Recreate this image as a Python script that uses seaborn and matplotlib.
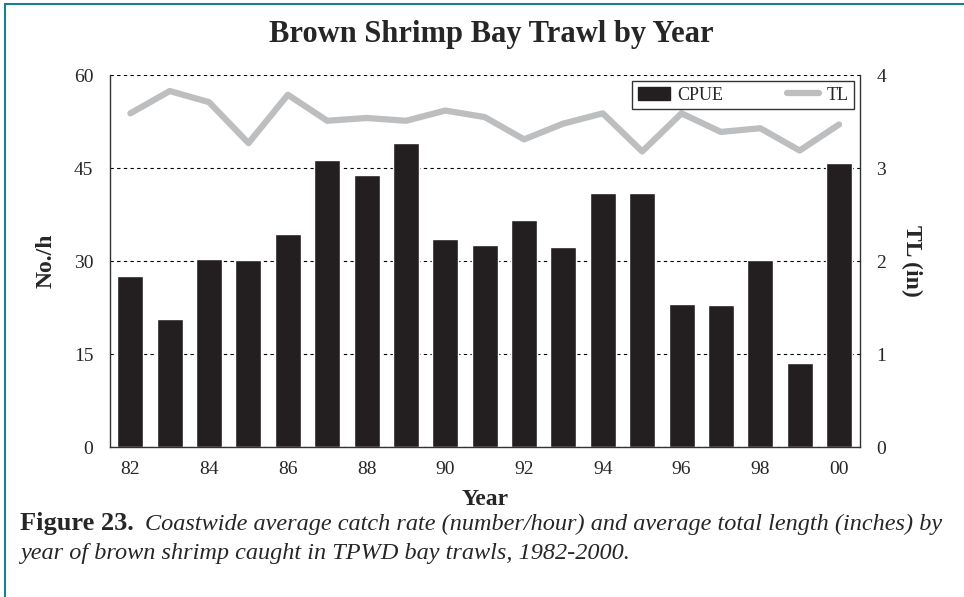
import numpy as np
import pandas as pd
import matplotlib.pyplot as plt
import matplotlib.lines as mlines
import seaborn as sns

sns.set_style("white")
plt.rcParams["font.family"] = ["Liberation Serif", "DejaVu Serif"]

# cores
PRETO = "#231f20"
CINZA = "#bcbec0"
TEAL = "#1b7f8f"

# dados
anos = [1982, 1983, 1984, 1985, 1986, 1987, 1988, 1989, 1990, 1991,
        1992, 1993, 1994, 1995, 1996, 1997, 1998, 1999, 2000]
cpue = [27.6, 20.6, 30.3, 30.2, 34.4, 46.3, 43.9, 49.0, 33.6, 32.6,
        36.6, 32.3, 41.0, 41.0, 23.1, 22.9, 30.2, 13.5, 45.8]
tl = [3.59, 3.83, 3.71, 3.27, 3.79, 3.51, 3.54, 3.51, 3.62, 3.55,
      3.31, 3.48, 3.59, 3.18, 3.59, 3.39, 3.43, 3.19, 3.47]
anos_ticks = [1982, 1984, 1986, 1988, 1990, 1992, 1994, 1996, 1998, 2000]
rotulos_x = ["82", "84", "86", "88", "90", "92", "94", "96", "98", "00"]
ticks_esq = [0, 15, 30, 45, 60]
ticks_dir = [0, 1, 2, 3, 4]

df = pd.DataFrame({"ANO": anos, "CPUE": cpue, "TL": tl})

fig = plt.figure(figsize=(9.64, 5.97), dpi=100)
ax = fig.add_axes([0.114, 0.251, 0.778, 0.623])

sns.barplot(data=df, x="ANO", y="CPUE", native_scale=True, color=PRETO,
            saturation=1, width=0.66, ax=ax, zorder=2)

ax.set_xlim(1981.48, 2000.53)
ax.set_ylim(0, 60)
ax.set_yticks(ticks_esq)
ax.set_xticks(anos_ticks)
ax.set_xticklabels(rotulos_x)
ax.tick_params(axis="both", length=0, labelsize=14)
ax.tick_params(axis="y", pad=12)
ax.tick_params(axis="x", pad=10)
ax.yaxis.grid(True, linestyle=(0, (3, 3)), color="black", linewidth=0.8)
ax.set_axisbelow(True)
for lado in ["left", "bottom", "right"]:
    ax.spines[lado].set_color("#333333")
    ax.spines[lado].set_linewidth(1.0)
ax.spines["top"].set_visible(False)

ax.set_xlabel("Year", fontsize=17, fontweight="bold", labelpad=8)
ax.set_ylabel("No./h", fontsize=17, fontweight="bold", labelpad=12)

# eixo secundario - TL
ax2 = ax.twinx()
sns.lineplot(data=df, x="ANO", y="TL", color=CINZA, linewidth=4.5, ax=ax2)
ax2.set_ylim(0, 4)
ax2.set_yticks(ticks_dir)
ax2.tick_params(axis="y", length=0, labelsize=14, pad=12)
ax2.set_ylabel("TL (in)", fontsize=17, fontweight="bold", rotation=270,
               labelpad=26)
for lado in ["left", "bottom", "right", "top"]:
    ax2.spines[lado].set_visible(False)

# legenda
h1 = plt.Rectangle((0, 0), 1, 1, color=PRETO)
h2 = mlines.Line2D([], [], color=CINZA, linewidth=4.5)
leg = ax2.legend([h1, h2], ["CPUE", "TL"], ncol=2, loc="upper right",
                 bbox_to_anchor=(0.992, 0.984), fancybox=False, frameon=True,
                 edgecolor="black", fontsize=13, columnspacing=3.5,
                 handlelength=1.8, handletextpad=0.4, borderpad=0.3,
                 borderaxespad=0)
leg.get_frame().set_linewidth(1.0)

# titulo
fig.text(0.51, 0.942, "Brown Shrimp Bay Trawl by Year", ha="center",
         va="center", fontsize=22, fontweight="bold")

# legenda da figura
t1 = fig.text(0.021, 0.112, "Figure 23.", fontsize=19, fontweight="bold",
              va="baseline")
ax.annotate("Coastwide average catch rate (number/hour) and average total "
            "length (inches) by", xy=(1, 0), xycoords=t1, xytext=(8, 0),
            textcoords="offset points", fontsize=17.5, style="italic",
            va="bottom", annotation_clip=False)
fig.text(0.021, 0.064, "year of brown shrimp caught in TPWD bay trawls, "
         "1982-2000.", fontsize=17.5, style="italic", va="baseline")

# moldura
fig.add_artist(mlines.Line2D([0.0055, 0.0055], [0.0, 0.993],
                             transform=fig.transFigure, color=TEAL, lw=1.5))
fig.add_artist(mlines.Line2D([0.0055, 1.0], [0.993, 0.993],
                             transform=fig.transFigure, color=TEAL, lw=1.5))

fig.savefig("out.png", dpi=100)
